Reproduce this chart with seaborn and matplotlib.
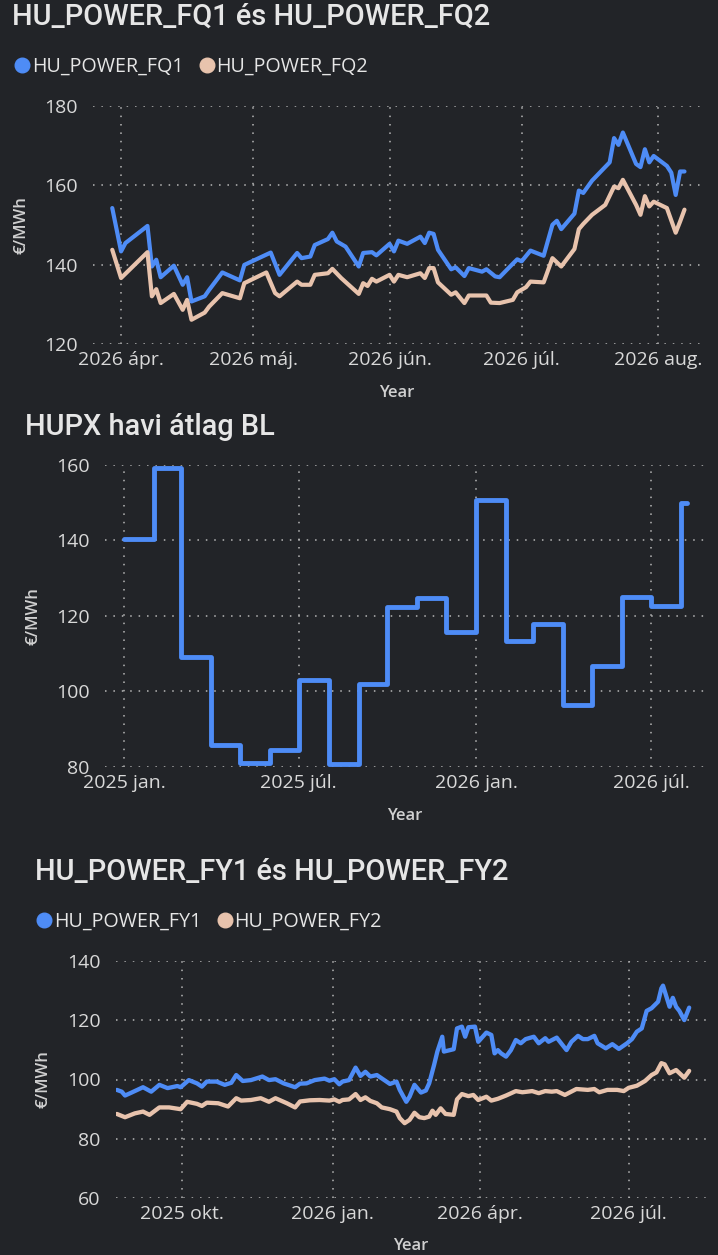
"""
Forward power prices and HUPX monthly average - dark dashboard style
"""

import matplotlib
matplotlib.use('Agg')
import matplotlib.pyplot as plt
from matplotlib.lines import Line2D
import seaborn as sns
import pandas as pd

# ---- data: quarterly forwards ----
fq1_dates = ['2026-03-30', '2026-04-01', '2026-04-02', '2026-04-07', '2026-04-08', '2026-04-09',
             '2026-04-10', '2026-04-13', '2026-04-15', '2026-04-16', '2026-04-17', '2026-04-20',
             '2026-04-21', '2026-04-24', '2026-04-28', '2026-04-29', '2026-05-05', '2026-05-07',
             '2026-05-11', '2026-05-12', '2026-05-14', '2026-05-15', '2026-05-18', '2026-05-19',
             '2026-05-20', '2026-05-22', '2026-05-25', '2026-05-26', '2026-05-28', '2026-05-29',
             '2026-06-01', '2026-06-02', '2026-06-03', '2026-06-05', '2026-06-08', '2026-06-09',
             '2026-06-10', '2026-06-11', '2026-06-12', '2026-06-15', '2026-06-16', '2026-06-18',
             '2026-06-19', '2026-06-22', '2026-06-23', '2026-06-25', '2026-06-26', '2026-06-29',
             '2026-06-30', '2026-07-01', '2026-07-03', '2026-07-06', '2026-07-08', '2026-07-09',
             '2026-07-10', '2026-07-13', '2026-07-14', '2026-07-15', '2026-07-17', '2026-07-21',
             '2026-07-22', '2026-07-23', '2026-07-24', '2026-07-27', '2026-07-28', '2026-07-29',
             '2026-07-30', '2026-07-31', '2026-08-03', '2026-08-04', '2026-08-05', '2026-08-06',
             '2026-08-07']
fq1_values = [154.2, 143.3, 145.4, 149.7, 139.5, 141.2,
              136.8, 139.7, 134.9, 136.8, 130.7, 132.0,
              133.6, 138.0, 136.0, 139.9, 143.0, 137.4,
              142.9, 141.6, 142.0, 144.9, 146.4, 148.0,
              145.8, 144.5, 139.5, 142.9, 143.1, 142.3,
              145.2, 143.3, 146.0, 145.2, 147.0, 145.4,
              148.0, 147.7, 143.7, 138.8, 139.3, 137.1,
              139.1, 138.2, 138.8, 137.0, 136.8, 140.2,
              141.3, 140.8, 143.5, 142.2, 150.0, 151.0,
              148.9, 152.8, 158.6, 158.0, 161.1, 165.7,
              171.8, 170.1, 173.2, 165.3, 164.5, 169.0,
              165.7, 167.3, 164.8, 163.1, 157.5, 163.4,
              163.4]

fq2_dates = ['2026-03-30', '2026-04-01', '2026-04-07', '2026-04-08', '2026-04-09', '2026-04-10',
             '2026-04-13', '2026-04-15', '2026-04-16', '2026-04-17', '2026-04-20', '2026-04-21',
             '2026-04-24', '2026-04-28', '2026-04-29', '2026-05-04', '2026-05-06', '2026-05-07',
             '2026-05-11', '2026-05-12', '2026-05-14', '2026-05-15', '2026-05-18', '2026-05-19',
             '2026-05-21', '2026-05-25', '2026-05-26', '2026-05-27', '2026-05-28', '2026-05-29',
             '2026-06-01', '2026-06-02', '2026-06-03', '2026-06-05', '2026-06-08', '2026-06-09',
             '2026-06-10', '2026-06-11', '2026-06-12', '2026-06-15', '2026-06-16', '2026-06-18',
             '2026-06-19', '2026-06-23', '2026-06-24', '2026-06-26', '2026-06-29', '2026-06-30',
             '2026-07-02', '2026-07-03', '2026-07-06', '2026-07-08', '2026-07-10', '2026-07-13',
             '2026-07-14', '2026-07-15', '2026-07-17', '2026-07-20', '2026-07-22', '2026-07-23',
             '2026-07-24', '2026-07-27', '2026-07-28', '2026-07-29', '2026-07-30', '2026-07-31',
             '2026-08-03', '2026-08-05', '2026-08-06', '2026-08-07']
fq2_values = [143.7, 136.6, 143.1, 132.0, 133.8, 130.3,
              132.6, 128.6, 131.1, 126.1, 127.9, 129.4,
              132.8, 131.5, 135.3, 138.0, 132.8, 132.0,
              135.7, 134.9, 134.9, 137.4, 137.8, 138.9,
              136.6, 132.6, 135.3, 134.6, 136.4, 135.7,
              137.4, 135.7, 137.4, 136.8, 137.8, 136.6,
              139.1, 139.1, 135.5, 132.4, 133.0, 130.3,
              132.2, 132.2, 130.4, 130.3, 131.1, 133.0,
              134.3, 135.7, 135.5, 141.6, 139.5, 143.9,
              148.9, 150.2, 152.5, 155.0, 159.6, 159.2,
              161.3, 155.0, 152.5, 157.2, 154.6, 155.8,
              154.2, 148.0, 150.8, 153.8]

# ---- data: HUPX monthly average baseload ----
hupx_months = ['2025-01-01', '2025-02-01', '2025-03-01', '2025-04-01', '2025-05-01',
               '2025-06-01', '2025-07-01', '2025-08-01', '2025-09-01', '2025-10-01',
               '2025-11-01', '2025-12-01', '2026-01-01', '2026-02-01', '2026-03-01',
               '2026-04-01', '2026-05-01', '2026-06-01', '2026-07-01', '2026-08-01']
hupx_values = [140.4, 159.1, 109.1, 85.7, 81.1,
               84.3, 102.9, 80.7, 101.9, 122.3,
               124.7, 115.7, 150.7, 113.4, 117.9,
               96.3, 106.6, 125.0, 122.5, 149.9]
hupx_last_day = '2026-08-07'

# ---- data: yearly forwards ----
fy1_dates = ['2025-08-22', '2025-08-25', '2025-08-27', '2025-08-31', '2025-09-07', '2025-09-12',
             '2025-09-17', '2025-09-22', '2025-09-28', '2025-09-30', '2025-10-05', '2025-10-10',
             '2025-10-13', '2025-10-16', '2025-10-22', '2025-10-27', '2025-10-31', '2025-11-03',
             '2025-11-07', '2025-11-12', '2025-11-19', '2025-11-23', '2025-11-27', '2025-12-02',
             '2025-12-09', '2025-12-12', '2025-12-16', '2025-12-21', '2025-12-27', '2025-12-30',
             '2026-01-02', '2026-01-05', '2026-01-07', '2026-01-11', '2026-01-15', '2026-01-18',
             '2026-01-21', '2026-01-24', '2026-01-28', '2026-02-05', '2026-02-09', '2026-02-11',
             '2026-02-15', '2026-02-17', '2026-02-20', '2026-02-24', '2026-02-27', '2026-03-01',
             '2026-03-04', '2026-03-06', '2026-03-09', '2026-03-10', '2026-03-16', '2026-03-18',
             '2026-03-21', '2026-03-23', '2026-03-25', '2026-03-29', '2026-03-31', '2026-04-05',
             '2026-04-08', '2026-04-10', '2026-04-12', '2026-04-14', '2026-04-17', '2026-04-20',
             '2026-04-23', '2026-04-26', '2026-04-29', '2026-05-04', '2026-05-07', '2026-05-11',
             '2026-05-13', '2026-05-18', '2026-05-24', '2026-05-27', '2026-05-31', '2026-06-03',
             '2026-06-06', '2026-06-10', '2026-06-12', '2026-06-17', '2026-06-21', '2026-06-25',
             '2026-06-30', '2026-07-03', '2026-07-06', '2026-07-09', '2026-07-12', '2026-07-15',
             '2026-07-19', '2026-07-21', '2026-07-22', '2026-07-26', '2026-07-28', '2026-07-30',
             '2026-08-01', '2026-08-04', '2026-08-07']
fy1_values = [96.5, 95.9, 94.6, 95.6, 97.4, 95.9,
              98.2, 97.1, 97.8, 97.4, 99.8, 98.7,
              97.6, 99.3, 99.3, 98.2, 98.9, 101.5,
              99.5, 99.8, 101.0, 99.8, 100.1, 98.7,
              97.4, 98.6, 98.7, 99.8, 100.3, 99.6,
              100.1, 98.4, 99.3, 99.8, 104.0, 101.2,
              102.6, 101.0, 101.5, 98.5, 99.3, 96.5,
              92.5, 94.2, 98.2, 95.6, 96.3, 98.7,
              104.9, 109.4, 114.4, 109.4, 110.2, 117.2,
              117.8, 114.4, 117.6, 117.8, 112.7, 115.8,
              115.0, 108.8, 109.9, 108.8, 107.7, 109.9,
              113.3, 112.2, 113.6, 114.4, 112.2, 113.9,
              112.7, 114.1, 109.9, 112.7, 114.7, 113.6,
              113.6, 114.7, 112.2, 110.5, 111.9, 110.3,
              112.2, 113.6, 116.1, 117.2, 123.1, 124.0,
              126.2, 130.7, 131.6, 124.5, 127.5, 124.5,
              123.1, 120.0, 124.2]

fy2_dates = ['2025-08-22', '2025-08-27', '2025-09-02', '2025-09-07', '2025-09-11', '2025-09-17',
             '2025-09-23', '2025-09-30', '2025-10-04', '2025-10-10', '2025-10-13', '2025-10-16',
             '2025-10-23', '2025-10-29', '2025-11-03', '2025-11-06', '2025-11-12', '2025-11-18',
             '2025-11-23', '2025-11-27', '2025-12-04', '2025-12-09', '2025-12-12', '2025-12-18',
             '2025-12-24', '2025-12-30', '2026-01-02', '2026-01-05', '2026-01-07', '2026-01-11',
             '2026-01-15', '2026-01-18', '2026-01-21', '2026-01-24', '2026-01-28', '2026-01-31',
             '2026-02-05', '2026-02-09', '2026-02-11', '2026-02-14', '2026-02-17', '2026-02-20',
             '2026-02-23', '2026-02-26', '2026-03-01', '2026-03-03', '2026-03-05', '2026-03-08',
             '2026-03-11', '2026-03-16', '2026-03-18', '2026-03-21', '2026-03-25', '2026-03-28',
             '2026-03-31', '2026-04-05', '2026-04-08', '2026-04-12', '2026-04-17', '2026-04-23',
             '2026-04-27', '2026-05-03', '2026-05-07', '2026-05-11', '2026-05-15', '2026-05-18',
             '2026-05-23', '2026-05-30', '2026-06-06', '2026-06-10', '2026-06-13', '2026-06-18',
             '2026-06-24', '2026-06-28', '2026-07-01', '2026-07-06', '2026-07-11', '2026-07-15',
             '2026-07-18', '2026-07-21', '2026-07-23', '2026-07-26', '2026-07-30', '2026-08-04',
             '2026-08-07']
fy2_values = [88.4, 87.3, 88.6, 89.2, 88.1, 90.6,
              90.6, 90.0, 92.5, 91.8, 91.1, 92.2,
              92.0, 90.9, 93.7, 92.9, 93.1, 93.7,
              92.5, 93.7, 92.0, 90.6, 92.6, 93.0,
              93.1, 92.9, 93.3, 92.5, 93.1, 93.3,
              95.1, 93.1, 94.0, 92.8, 92.0, 90.6,
              90.0, 89.2, 87.0, 85.3, 86.4, 88.8,
              87.3, 87.0, 87.5, 89.5, 88.1, 90.3,
              88.4, 88.1, 93.3, 95.1, 94.4, 94.8,
              93.1, 94.2, 92.9, 93.5, 94.6, 96.1,
              95.7, 96.1, 95.4, 96.1, 95.9, 96.1,
              94.8, 96.8, 96.5, 96.8, 95.7, 96.5,
              96.5, 96.1, 97.2, 97.9, 99.5, 101.5,
              102.4, 105.5, 105.1, 102.1, 103.2, 100.6,
              102.9]

# ---- labels ----
q_names = ['HU_POWER_FQ1', 'HU_POWER_FQ2']
y_names = ['HU_POWER_FY1', 'HU_POWER_FY2']
q_ticks = ['2026-04-01', '2026-05-01', '2026-06-01', '2026-07-01', '2026-08-01']
q_ticklabels = ['2026 ápr.', '2026 máj.', '2026 jún.', '2026 júl.', '2026 aug.']
h_ticks = ['2025-01-01', '2025-07-01', '2026-01-01', '2026-07-01']
h_ticklabels = ['2025 jan.', '2025 júl.', '2026 jan.', '2026 júl.']
y_ticks = ['2025-10-01', '2026-01-01', '2026-04-01', '2026-07-01']
y_ticklabels = ['2025 okt.', '2026 jan.', '2026 ápr.', '2026 júl.']

# ---- style ----
BG = '#222428'
BLUE = '#4E8CF6'
PEACH = '#E8C3AD'
TITLE_C = '#E6E6E6'
TICK_C = '#D9D9D9'
GRID_C = '#B8B8B8'
W, H = 718, 1255

sns.set_theme(style='dark')
plt.rcParams['font.family'] = ['Open Sans', 'DejaVu Sans']
plt.rcParams['axes.facecolor'] = BG
plt.rcParams['figure.facecolor'] = BG

fig = plt.figure(figsize=(W / 100, H / 100), dpi=100)


def px_axes(left, top, right, bottom):
    return fig.add_axes([left / W, 1 - bottom / H, (right - left) / W, (bottom - top) / H])


def style_axes(ax, ticks, ticklabels, xlim, ylim, yticks, ylab_x, xlab_y):
    ax.set_facecolor(BG)
    for s in ax.spines.values():
        s.set_visible(False)
    ax.set_xlim(pd.Timestamp(xlim[0]), pd.Timestamp(xlim[1]))
    ax.set_ylim(*ylim)
    ax.set_yticks(yticks)
    ax.set_xticks([pd.Timestamp(t) for t in ticks])
    ax.set_xticklabels(ticklabels)
    ax.tick_params(axis='both', length=0, labelsize=14, colors=TICK_C)
    ax.tick_params(axis='y', pad=11)
    ax.tick_params(axis='x', pad=5)
    ax.grid(True, color=GRID_C, linestyle=(0, (1, 4.5)), linewidth=1.1)
    ax.set_ylabel('€/MWh', fontsize=12, fontweight='semibold', color='#D0D0D0')
    ax.set_xlabel('Year', fontsize=12, fontweight='semibold', color='#D0D0D0')
    # place axis labels at the pixel spots of the reference layout
    pos = ax.get_position()
    w_px = pos.width * W
    h_px = pos.height * H
    left_px = pos.x0 * W
    bottom_px = (1 - pos.y0) * H
    ax.yaxis.set_label_coords((ylab_x - left_px) / w_px, 0.5)
    ax.xaxis.set_label_coords(0.5, (bottom_px - xlab_y) / h_px)
    ax.xaxis.label.set_va('center')
    ax.yaxis.label.set_va('center')


def add_legend(ax, names, x_px, y_px):
    handles = [Line2D([], [], linestyle='none', marker='o', markersize=10.5, color=c)
               for c in (BLUE, PEACH)]
    ax.legend(handles, names, loc='center left', ncol=2, frameon=False,
              bbox_to_anchor=(x_px / W, 1 - y_px / H), bbox_transform=fig.transFigure,
              handlelength=0.7, handletextpad=0.12, columnspacing=0.85,
              borderpad=0, borderaxespad=0, fontsize=14.2, labelcolor=TITLE_C)


def add_title(text, x_px, base_px):
    fig.text(x_px / W, 1 - base_px / H, text, fontsize=20.8, color=TITLE_C,
             family=['Roboto', 'DejaVu Sans'], fontweight='medium',
             va='baseline', ha='left')


# ---- chart 1: quarterly ----
q_df = pd.concat([
    pd.DataFrame({'date': pd.to_datetime(fq1_dates), 'value': fq1_values, 'series': q_names[0]}),
    pd.DataFrame({'date': pd.to_datetime(fq2_dates), 'value': fq2_values, 'series': q_names[1]}),
])
ax1 = px_axes(93, 105.5, 701, 344)
sns.lineplot(data=q_df, x='date', y='value', hue='series', hue_order=q_names,
             palette=[BLUE, PEACH], linewidth=3.0, legend=False, ax=ax1)
style_axes(ax1, q_ticks, q_ticklabels, ('2026-03-25 15:00', '2026-08-10 18:00'),
           (120, 180), [120, 140, 160, 180], 22, 393)
add_title('HU_POWER_FQ1 és HU_POWER_FQ2', 12, 25)
add_legend(ax1, q_names, 15.5, 67)

# ---- chart 2: HUPX monthly steps ----
h_df = pd.DataFrame({'date': pd.to_datetime(hupx_months + [hupx_last_day]),
                     'value': hupx_values + [hupx_values[-1]]})
ax2 = px_axes(105, 464.5, 705, 766.7)
sns.lineplot(data=h_df, x='date', y='value', color=BLUE, linewidth=3.5,
             drawstyle='steps-post', ax=ax2)
style_axes(ax2, h_ticks, h_ticklabels, ('2024-12-12 07:00', '2026-08-26'),
           (80, 160), [80, 100, 120, 140, 160], 34, 816)
add_title('HUPX havi átlag BL', 25, 435)

# ---- chart 3: yearly ----
y_df = pd.concat([
    pd.DataFrame({'date': pd.to_datetime(fy1_dates), 'value': fy1_values, 'series': y_names[0]}),
    pd.DataFrame({'date': pd.to_datetime(fy2_dates), 'value': fy2_values, 'series': y_names[1]}),
])
ax3 = px_axes(115.7, 960.7, 706, 1198.3)
sns.lineplot(data=y_df, x='date', y='value', hue='series', hue_order=y_names,
             palette=[BLUE, PEACH], linewidth=3.1, legend=False, ax=ax3)
style_axes(ax3, y_ticks, y_ticklabels, ('2025-08-21 07:00', '2026-08-17 07:00'),
           (60, 140), [60, 80, 100, 120, 140], 43, 1246)
add_title('HU_POWER_FY1 és HU_POWER_FY2', 35, 880)
add_legend(ax3, y_names, 37.5, 921.7)

fig.savefig('out.png', dpi=100, facecolor=BG)
plt.close(fig)
